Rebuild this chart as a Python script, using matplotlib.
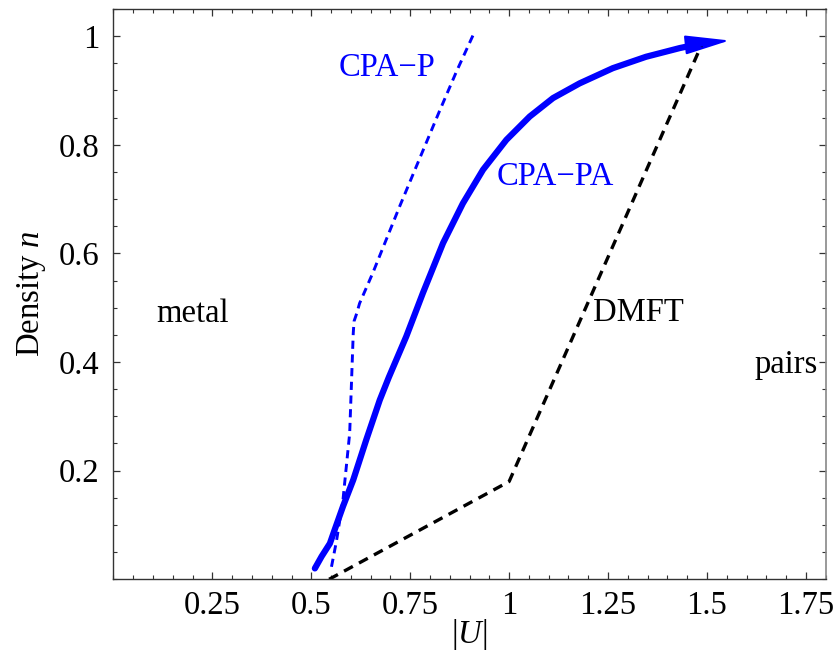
import matplotlib
matplotlib.use("Agg")
import matplotlib.pyplot as plt
from matplotlib.ticker import MultipleLocator, FixedLocator, FixedFormatter
from matplotlib.patches import FancyArrowPatch

plt.rcParams['font.family'] = ['Liberation Serif', 'DejaVu Serif']
plt.rcParams['mathtext.fontset'] = 'custom'
plt.rcParams['mathtext.rm'] = 'Liberation Serif'
plt.rcParams['mathtext.it'] = 'Liberation Serif:italic'

# CPA-PA (thick solid with arrow)
cpa_pa_U = [0.509, 0.526, 0.547, 0.559, 0.580, 0.606, 0.639, 0.673, 0.696, 0.740, 0.782,
            0.833, 0.883, 0.934, 0.993, 1.052, 1.111, 1.178, 1.262, 1.346, 1.431, 1.489, 1.557]
cpa_pa_n = [0.020, 0.042, 0.066, 0.091, 0.134, 0.183, 0.257, 0.330, 0.372, 0.447, 0.527,
            0.619, 0.692, 0.754, 0.809, 0.852, 0.886, 0.913, 0.941, 0.962, 0.978, 0.987, 0.992]

# CPA-P (thin dashed blue)
cpa_p_U = [0.551, 0.564, 0.580, 0.597, 0.606, 0.608, 0.615, 0.622, 0.656, 0.677, 0.723,
           0.774, 0.824, 0.867, 0.909]
cpa_p_n = [0.023, 0.072, 0.146, 0.269, 0.453, 0.475, 0.490, 0.508, 0.565, 0.603, 0.686,
           0.775, 0.862, 0.935, 1.002]

# DMFT (dashed black)
dmft_U = [0.545, 1.0, 1.487]
dmft_n = [0.0, 0.18, 0.985]

x_ticks = [0.25, 0.5, 0.75, 1.0, 1.25, 1.5, 1.75]
x_labels = ["0.25", "0.5", "0.75", "1", "1.25", "1.5", "1.75"]
y_ticks = [0.2, 0.4, 0.6, 0.8, 1.0]
y_labels = ["0.2", "0.4", "0.6", "0.8", "1"]

FS = 23.5
BLUE = '#0000ff'

fig = plt.figure(figsize=(8.38, 6.55), dpi=100)
ax = fig.add_axes([0.1354, 0.1156, 0.9853 - 0.1354, 0.9863 - 0.1156])

ax.plot(cpa_p_U, cpa_p_n, color=BLUE, lw=2.1, dashes=(2.8, 1.9))
ax.plot(dmft_U, dmft_n, color='black', lw=2.4, dashes=(3.0, 2.1))
ax.plot(cpa_pa_U[:-1], cpa_pa_n[:-1], color=BLUE, lw=4.5, solid_capstyle='round',
        solid_joinstyle='round')
arrow = FancyArrowPatch((cpa_pa_U[-2], cpa_pa_n[-2]), (cpa_pa_U[-1], cpa_pa_n[-1]),
                        arrowstyle='-|>,head_length=1.4,head_width=0.3',
                        mutation_scale=20, color=BLUE, lw=1.5,
                        shrinkA=0, shrinkB=0, joinstyle='round', capstyle='round')
ax.add_patch(arrow)

ax.text(0.2, 0.474, 'metal', fontsize=FS, ha='center', va='baseline')
ax.text(1.212, 0.476, 'DMFT', fontsize=FS, ha='left', va='baseline')
ax.text(1.78, 0.38, 'pairs', fontsize=FS, ha='right', va='baseline')
ax.text(0.568, 0.927, 'CPA\u2212P', fontsize=FS, ha='left', va='baseline', color=BLUE)
ax.text(0.968, 0.726, 'CPA\u2212PA', fontsize=FS, ha='left', va='baseline', color=BLUE)

ax.set_xlim(0, 1.8)
ax.set_ylim(0, 1.05)
ax.xaxis.set_major_locator(FixedLocator(x_ticks))
ax.xaxis.set_major_formatter(FixedFormatter(x_labels))
ax.yaxis.set_major_locator(FixedLocator(y_ticks))
ax.yaxis.set_major_formatter(FixedFormatter(y_labels))
ax.xaxis.set_minor_locator(MultipleLocator(0.05))
ax.yaxis.set_minor_locator(MultipleLocator(0.05))
ax.tick_params(which='both', direction='in', top=True, right=True, colors='#333333',
               labelcolor='black', labelsize=FS)
ax.tick_params(which='major', length=5, width=0.9)
ax.tick_params(which='minor', length=3, width=0.8)
ax.tick_params(axis='y', pad=10)
ax.tick_params(axis='x', pad=8)
for s in ['left', 'bottom', 'top']:
    ax.spines[s].set_color('#333333')
    ax.spines[s].set_linewidth(1.0)
ax.spines['right'].set_color('#888888')
ax.spines['right'].set_linewidth(1.2)

ax.set_xlabel(r'$|U|$', fontsize=FS, labelpad=-3)
ax.set_ylabel(r'Density $n$', fontsize=FS, labelpad=8)

fig.savefig('out.png', dpi=100)
